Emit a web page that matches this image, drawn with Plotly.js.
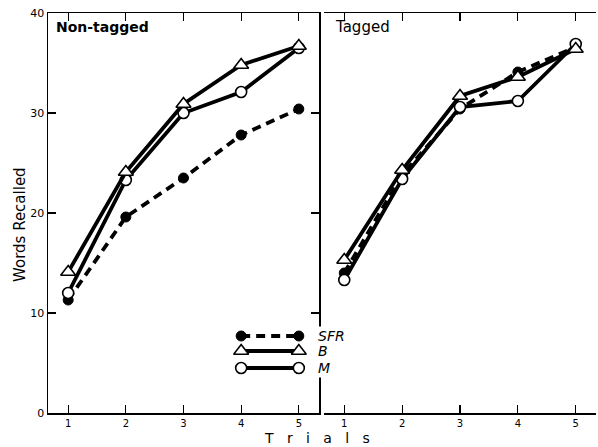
<!DOCTYPE html>
<html>
<head>
<meta charset="utf-8">
<script src="https://cdn.plot.ly/plotly-3.0.1.min.js"></script>
<style>html,body{margin:0;padding:0;background:#fff;}#chart{width:598px;height:447px;}</style>
</head>
<body>
<div id="chart"></div>
<script>
const trials = [1, 2, 3, 4, 5];
const trialTicks = ['1', '2', '3', '4', '5'];
const wordTicks = [0, 10, 20, 30, 40];

// Non-tagged condition
const nonTaggedSFR = [11.3, 19.6, 23.5, 27.8, 30.4];
const nonTaggedB   = [14.1, 24.1, 30.9, 34.8, 36.7];
const nonTaggedM   = [12.0, 23.3, 30.0, 32.1, 36.5];

// Tagged condition
const taggedSFR = [14.0, 23.8, 30.4, 34.1, 36.6];
const taggedB   = [15.3, 24.3, 31.7, 33.6, 36.4];
const taggedM   = [13.3, 23.4, 30.6, 31.2, 36.9];

// Legend keys (drawn inside the left panel)
const legendNames = ['SFR', 'B', 'M'];
const legendX = [4, 5];
const legendY = [7.7, 6.2, 4.5];

const styles = {
  SFR: {line: {color: '#000', width: 3.8, dash: '9px,6px'}, marker: {symbol: 'circle', size: 10, color: '#000', line: {color: '#000', width: 1}}},
  B:   {line: {color: '#000', width: 3.8}, marker: {symbol: 'triangle-up', size: 13, color: '#fff', line: {color: '#000', width: 1.6}}},
  M:   {line: {color: '#000', width: 3.8}, marker: {symbol: 'circle', size: 11, color: '#fff', line: {color: '#000', width: 1.6}}}
};

function tr(x, y, name, xa) {
  const s = styles[name];
  return {x: x, y: y, xaxis: xa, yaxis: 'y', type: 'scatter', mode: 'lines+markers',
          line: s.line, marker: s.marker, showlegend: false, hoverinfo: 'skip', cliponaxis: false};
}

const data = [
  tr(trials, nonTaggedSFR, 'SFR', 'x'),
  tr(trials, nonTaggedM, 'M', 'x'),
  tr(trials, nonTaggedB, 'B', 'x'),
  tr(trials, taggedSFR, 'SFR', 'x2'),
  tr(trials, taggedM, 'M', 'x2'),
  tr(trials, taggedB, 'B', 'x2')
];
legendNames.forEach((n, i) => {
  data.push(tr(legendX, [legendY[i], legendY[i]], n, 'x'));
});

const fontFam = 'DejaVu Sans, Arial, sans-serif';
const xCommon = {
  range: [0.65, 5.35], tickvals: trials, ticktext: trialTicks,
  ticks: 'inside', ticklen: 8, tickwidth: 1.2, tickcolor: '#000',
  showline: true, linecolor: '#000', linewidth: 1.5, mirror: 'ticks',
  showgrid: false, zeroline: false, fixedrange: true,
  tickfont: {family: fontFam, size: 10, color: '#000'}
};

const layout = {
  width: 598, height: 447,
  margin: {l: 0, r: 0, t: 13, b: 34},
  paper_bgcolor: '#fff', plot_bgcolor: '#fff',
  showlegend: false,
  xaxis: Object.assign({}, xCommon, {domain: [48/598, 319/598], anchor: 'y'}),
  xaxis2: Object.assign({}, xCommon, {domain: [324/598, 596/598], anchor: 'y2'}),
  yaxis: {
    domain: [0, 1], range: [0, 40], tickvals: wordTicks, anchor: 'x',
    ticks: 'inside', ticklen: 8, tickwidth: 1.2, tickcolor: '#000',
    showline: true, linecolor: '#000', linewidth: 1.5, mirror: 'ticks',
    showgrid: false, zeroline: false, fixedrange: true,
    tickfont: {family: fontFam, size: 11, color: '#000'}
  },
  yaxis2: {
    domain: [0, 1], range: [0, 40], tickvals: wordTicks, anchor: 'x2', matches: 'y',
    ticks: 'inside', ticklen: 8, tickwidth: 1.2, tickcolor: '#000', showticklabels: false,
    showline: true, linecolor: '#000', linewidth: 1.5, mirror: 'ticks',
    showgrid: false, zeroline: false, fixedrange: true
  },
  annotations: [
    {text: '<b>Non-tagged</b>', xref: 'paper', yref: 'paper', x: 54/598, y: 1 - (27-13)/400, xanchor: 'left', yanchor: 'middle', showarrow: false,
     font: {family: fontFam, size: 14, color: '#000'}},
    {text: 'Tagged', xref: 'paper', yref: 'paper', x: 333/598, y: 1 - (27-13)/400, xanchor: 'left', yanchor: 'middle', showarrow: false,
     font: {family: fontFam, size: 15, color: '#000'}},
    {text: 'T   r   i   a   l   s', xref: 'paper', yref: 'paper', x: 317/598, y: -(447-413)/400, xanchor: 'center', yanchor: 'bottom', showarrow: false,
     borderpad: 0, font: {family: fontFam, size: 14, color: '#000'}},
    {text: 'Words Recalled', xref: 'paper', yref: 'paper', x: 20/598, y: 1 - (225-13)/400, xanchor: 'center', yanchor: 'middle', textangle: -90, showarrow: false,
     font: {family: fontFam, size: 15, color: '#000'}},
    {text: '<i>' + legendNames[0] + '</i>', xref: 'paper', yref: 'y', x: 316/598, y: legendY[0], xanchor: 'left', yanchor: 'middle', showarrow: false,
     bgcolor: '#fff', font: {family: fontFam, size: 14, color: '#000'}},
    {text: '<i>' + legendNames[1] + '</i>', xref: 'paper', yref: 'y', x: 316/598, y: legendY[1], xanchor: 'left', yanchor: 'middle', showarrow: false,
     bgcolor: '#fff', font: {family: fontFam, size: 14, color: '#000'}},
    {text: '<i>' + legendNames[2] + '</i>', xref: 'paper', yref: 'y', x: 316/598, y: legendY[2], xanchor: 'left', yanchor: 'middle', showarrow: false,
     bgcolor: '#fff', font: {family: fontFam, size: 14, color: '#000'}}
  ]
};

Plotly.newPlot('chart', data, layout, {displayModeBar: false, staticPlot: true});
</script>
</body>
</html>
